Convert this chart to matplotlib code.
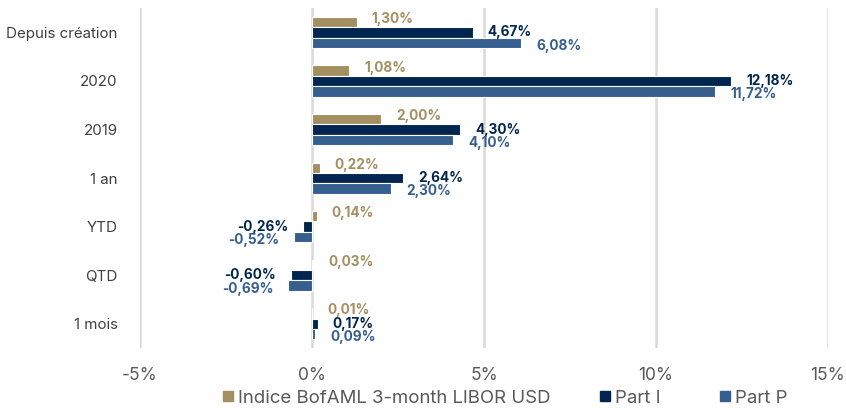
import numpy as np
import matplotlib.pyplot as plt

plt.rcParams['font.family'] = ['Inter', 'DejaVu Sans']

categories = ['Depuis création', '2020', '2019', '1 an', 'YTD', 'QTD', '1 mois']
indice = [1.30, 1.08, 2.00, 0.22, 0.14, 0.03, 0.01]
part_i = [4.67, 12.18, 4.30, 2.64, -0.26, -0.60, 0.17]
part_p = [6.08, 11.72, 4.10, 2.30, -0.52, -0.69, 0.09]
series_names = ['Indice BofAML 3-month LIBOR USD', 'Part I', 'Part P']
colors = ['#A38F60', '#00264F', '#365F90']
xticks = [-5, 0, 5, 10, 15]

fig = plt.figure(figsize=(8.46, 4.08), dpi=100)
ax = fig.add_axes([0.1655, 0.147, 0.8132, 0.833])

y = np.arange(len(categories))
h = 0.213
label_dy = [3, 0, -3]   # small vertical shift of value labels, in pixels
for k, (vals, col) in enumerate(zip([indice, part_i, part_p], colors)):
    pos = y + (k - 1) * h
    ax.barh(pos, vals, height=h, color=col, edgecolor='white', linewidth=0.8, zorder=3)
    for yy, v in zip(pos, vals):
        lab = f'{v:.2f}%'.replace('.', ',')
        ax.annotate(lab, (v, yy), xytext=(15 if v >= 0 else -15, label_dy[k]), textcoords='offset pixels',
                    ha='left' if v >= 0 else 'right', va='center', color=col,
                    fontsize=9.8, fontweight='bold', zorder=4)

ax.set_xlim(-5, 15)
ax.set_ylim(len(categories) - 0.5, -0.5)
ax.set_xticks(xticks)
ax.set_xticklabels([f'{t}%' for t in xticks])
ax.set_yticks(y)
ax.set_yticklabels(categories)
ax.tick_params(axis='x', length=0, pad=14, labelsize=12.5, labelcolor='#595959')
ax.tick_params(axis='y', length=0, pad=16, labelsize=10.9, labelcolor='#404040')
ax.grid(axis='x', color='#d9d9d9', linewidth=1.8, zorder=0)
for s in ax.spines.values():
    s.set_visible(False)

# one legend entry per slot, like the reference's fixed-width legend
leg_x = [0.258, 0.704, 0.846]
for c, n, lx in zip(colors, series_names, leg_x):
    hnd = plt.plot([], [], marker='s', ms=7, ls='', color=c, label=n)[0]
    fig.legend(handles=[hnd], loc='center left', bbox_to_anchor=(lx, 1 - 398 / 408), frameon=False,
               fontsize=13.4, handletextpad=0.05, handlelength=1.0, borderpad=0, borderaxespad=0,
               labelcolor='#595959')

fig.savefig('out.png', dpi=100)
